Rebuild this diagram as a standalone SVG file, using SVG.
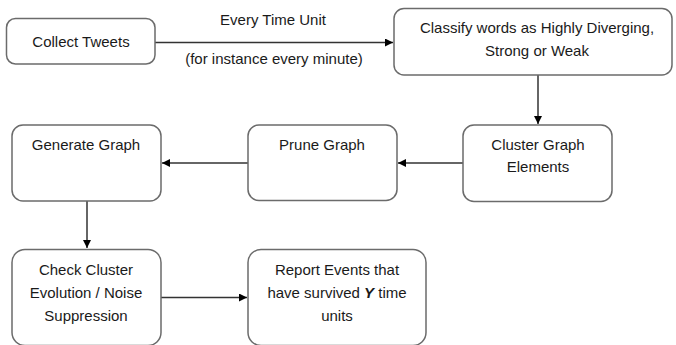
<svg xmlns="http://www.w3.org/2000/svg" width="676" height="345" viewBox="0 0 676 345">
<style>
.box{fill:#fff;stroke:#6b6b6b;stroke-width:1.5}
.t{font-family:"Liberation Sans",Arial,sans-serif;font-size:15px;fill:#1a1a1a;text-anchor:middle}
.c{stroke:#333;stroke-width:1.5;fill:none;marker-end:url(#ah)}
</style>
<defs>
<marker id="ah" viewBox="0 0 10 10" refX="10" refY="5" markerWidth="8" markerHeight="8" markerUnits="userSpaceOnUse" orient="auto">
<path d="M0,0 L10,5 L0,10 z" fill="#000"/>
</marker>
</defs>
<rect width="676" height="345" fill="#fff"/>
<g id="connectors">
<path class="c" d="M155,42.5 H393"/>
<path class="c" d="M538,75 V124"/>
<path class="c" d="M463,163 H398"/>
<path class="c" d="M248,163 H162"/>
<path class="c" d="M87,201 V248"/>
<path class="c" d="M161,297.5 H247"/>
<text class="t" x="273" y="25">Every Time Unit</text>
<text class="t" x="274" y="64">(for instance every minute)</text>
</g>
<g id="collect"><rect class="box" x="6.5" y="18.5" width="148.5" height="45.5" rx="9"/><text class="t" x="81" y="47">Collect Tweets</text></g>
<g id="classify"><rect class="box" x="394" y="8.5" width="278" height="66.5" rx="10"/><text class="t" x="537" y="33">Classify words as Highly Diverging,</text><text class="t" x="537" y="56">Strong or Weak</text></g>
<g id="cluster"><rect class="box" x="463" y="125" width="149" height="76.5" rx="11"/><text class="t" x="538" y="150">Cluster Graph</text><text class="t" x="538" y="172">Elements</text></g>
<g id="prune"><rect class="box" x="248" y="125" width="149" height="75.5" rx="11"/><text class="t" x="322" y="150">Prune Graph</text></g>
<g id="generate"><rect class="box" x="12" y="125" width="149" height="76" rx="11"/><text class="t" x="86" y="150">Generate Graph</text></g>
<g id="check"><rect class="box" x="12" y="249.5" width="149" height="96" rx="13"/><text class="t" x="86" y="275">Check Cluster</text><text class="t" x="86" y="298">Evolution / Noise</text><text class="t" x="86" y="321">Suppression</text></g>
<g id="report"><rect class="box" x="248" y="249.5" width="178" height="96" rx="13"/><text class="t" x="337" y="275">Report Events that</text><text class="t" x="337" y="298">have survived <tspan font-weight="bold" font-style="italic">Y</tspan> time</text><text class="t" x="337" y="321">units</text></g>
</svg>
